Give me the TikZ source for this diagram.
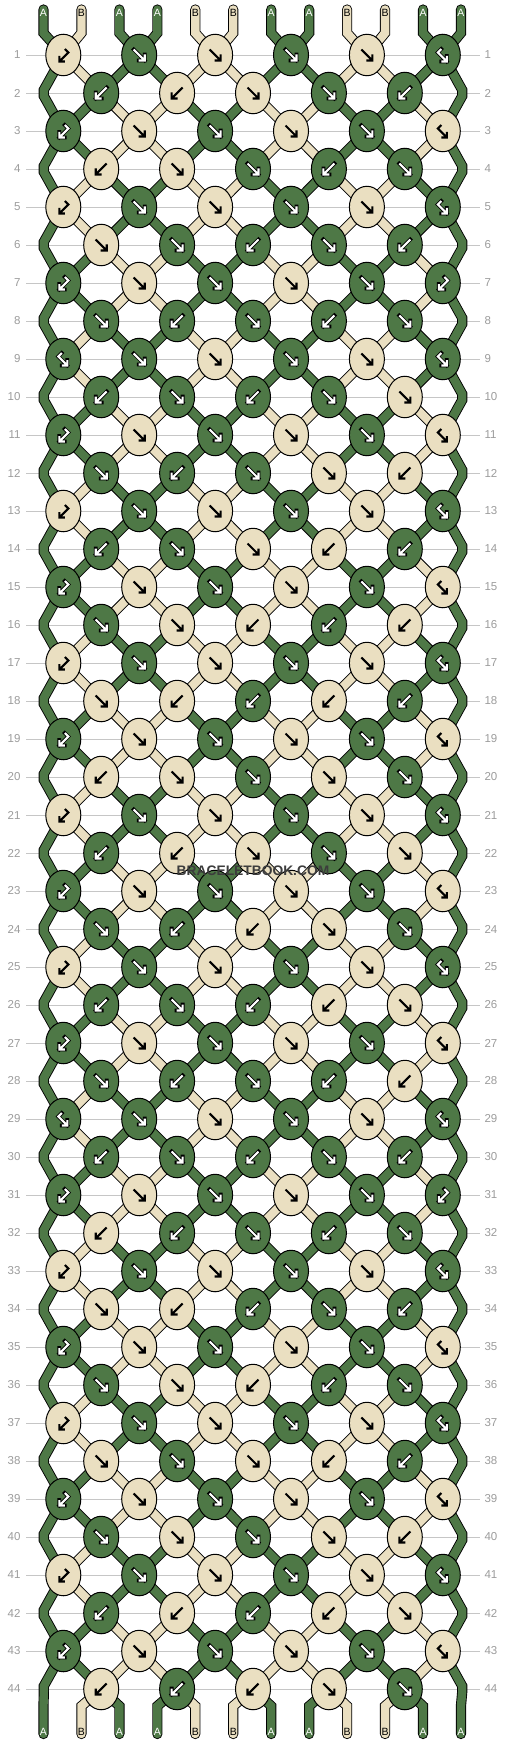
\documentclass[tikz,border=0pt]{standalone}
\usepackage{fontspec}
\setmainfont{Liberation Sans}
\usetikzlibrary{shapes.geometric}

\definecolor{strandA}{HTML}{4E7846}
\definecolor{strandB}{HTML}{EADFC1}
\definecolor{gridgray}{HTML}{C6C6C6}
\definecolor{numgray}{HTML}{9C9C9C}
\definecolor{markgray}{HTML}{3C3C3C}
\colorlet{labelA}{white}
\colorlet{labelB}{black}

\tikzset{
  strand/.style={line width=8.4pt, line cap=round, line join=miter},
  strandrim/.style={line width=10.2pt, line cap=round, line join=miter, draw=black},
  knot/.style={ellipse, draw=black, line width=1pt, minimum width=35pt, minimum height=41.5pt, inner sep=0pt},
  knotA/.style={fill=strandA},
  knotB/.style={fill=strandB},
  glyphA/.style={grim/.style={draw=black, line width=3.8pt, line cap=rect}, gcore/.style={draw=white, line width=2.1pt}},
  glyphB/.style={grim/.style={draw=strandB, line width=3.2pt, line cap=rect}, gcore/.style={draw=black, line width=2.1pt}},
  rowline/.style={gridgray, line width=0.9pt},
  rownum/.style={numgray, font=\fontsize{11.5}{13}\selectfont, inner sep=0pt},
  endlabel/.style={font=\fontsize{10.5}{12}\selectfont, inner sep=0pt},
  % knot symbols
  gF/.pic={\draw[grim] (-5.5,-5.5) -- (5.5,5.5) (5.5,-0.5) -- (5.5,5.5) -- (-0.5,5.5);
           \draw[gcore] (-5.5,-5.5) -- (5.5,5.5) (5.5,-0.5) -- (5.5,5.5) -- (-0.5,5.5);},
  gB/.pic={\draw[grim] (5.5,-5.5) -- (-5.5,5.5) (-5.5,-0.5) -- (-5.5,5.5) -- (0.5,5.5);
           \draw[gcore] (5.5,-5.5) -- (-5.5,5.5) (-5.5,-0.5) -- (-5.5,5.5) -- (0.5,5.5);},
  gf/.pic={\draw[grim] (-1.5,-6) -- (-5,-2.5) -- (4,6.5) (4,1) -- (4,6.5) -- (-1.5,6.5);
           \draw[gcore] (-1.5,-6) -- (-5,-2.5) -- (4,6.5) (4,1) -- (4,6.5) -- (-1.5,6.5);},
  gb/.pic={\draw[grim] (1.5,-6) -- (5,-2.5) -- (-4,6.5) (-4,1) -- (-4,6.5) -- (1.5,6.5);
           \draw[gcore] (1.5,-6) -- (5,-2.5) -- (-4,6.5) (-4,1) -- (-4,6.5) -- (1.5,6.5);},
}

% string bookkeeping
\newcommand\addpt[2]{\expandafter\xdef\csname spath#1\endcsname{\csname spath#1\endcsname -- #2}}
\newcommand\swapstr{%
  \expandafter\xdef\csname pos\lpos\endcsname{\rstr}%
  \expandafter\xdef\csname pos\rpos\endcsname{\lstr}}
\newcommand\drawknot[5]{%
  \node[knot, knot#4] (k#1) at (#2,#3) {};
  \pic[glyph#4] at (#2,#3) {g#5};}
\gdef\knotlist{}

\newcommand\dorow[2]{%
  \pgfmathsetmacro\ry{55+38*(#1-1)}%
  \pgfmathsetmacro\ya{\ry-3}\pgfmathsetmacro\yb{\ry+3}%
  \foreach \p in {1,...,12}{%
    \edef\sid{\csname pos\p\endcsname}%
    \ifodd#1
      \pgfmathsetmacro\px{63.3+75.9*(int((\p+1)/2)-1)}%
      \addpt{\sid}{(\px,\ry)}%
    \else
      \ifnum\p=1 \addpt{\sid}{(43.8,\ya) -- (43.8,\yb)}%
      \else\ifnum\p=12 \addpt{\sid}{(462.2,\ya) -- (462.2,\yb)}%
      \else
        \pgfmathsetmacro\px{101.2+75.9*(int(\p/2)-1)}%
        \addpt{\sid}{(\px,\ry)}%
      \fi\fi
    \fi
  }%
  \foreach \ktype [count=\kn] in {#2}{%
    \ifodd#1
      \pgfmathtruncatemacro\lpos{2*\kn-1}\pgfmathsetmacro\kx{63.3+75.9*(\kn-1)}%
    \else
      \pgfmathtruncatemacro\lpos{2*\kn}\pgfmathsetmacro\kx{101.2+75.9*(\kn-1)}%
    \fi
    \pgfmathtruncatemacro\rpos{\lpos+1}%
    \edef\lstr{\csname pos\lpos\endcsname}\edef\rstr{\csname pos\rpos\endcsname}%
    \edef\kc{\csname scol\rstr\endcsname}%
    \if F\ktype \edef\kc{\csname scol\lstr\endcsname}\fi
    \if f\ktype \edef\kc{\csname scol\lstr\endcsname}\fi
    \if F\ktype \swapstr\fi
    \if B\ktype \swapstr\fi
    \xdef\knotlist{\unexpanded\expandafter{\knotlist}\noexpand\drawknot{#1-\kn}{\kx}{\ry}{\kc}{\ktype}}%
  }%
}

\begin{document}
\begin{tikzpicture}[x=1pt, y=-1pt]
  \useasboundingbox (0,0) rectangle (506,1744);
  \fill[white] (0,0) rectangle (506,1744);

  % row lines and numbers
  \foreach \r in {1,...,44}{
    \pgfmathsetmacro\ry{55+38*(\r-1)}
    \draw[rowline] (26,\ry) -- (480,\ry);
    \node[rownum, anchor=east] (numl\r) at (20.7,\ry) {\r};
    \node[rownum, anchor=west] (numr\r) at (484.3,\ry) {\r};
  }

  % strings at the top
  \foreach \sc [count=\si] in {A,B,A,A,B,B,A,A,B,B,A,A}{
    \pgfmathsetmacro\sx{43.5+37.95*(\si-1)}
    \expandafter\xdef\csname scol\si\endcsname{\sc}
    \expandafter\xdef\csname pos\si\endcsname{\si}
    \expandafter\xdef\csname spath\si\endcsname{(\sx,9.5) -- (\sx,33)}
  }

  \dorow{1}{b,F,F,F,F,f}
  \dorow{2}{B,B,F,F,B}
  \dorow{3}{b,F,F,F,F,f}
  \dorow{4}{B,F,F,B,F}
  \dorow{5}{b,F,F,F,F,f}
  \dorow{6}{F,F,B,F,B}
  \dorow{7}{b,F,F,F,F,b}
  \dorow{8}{F,B,F,B,F}
  \dorow{9}{f,F,F,F,F,f}
  \dorow{10}{B,F,B,F,F}
  \dorow{11}{b,F,F,F,F,f}
  \dorow{12}{F,B,F,F,B}
  \dorow{13}{b,F,F,F,F,f}
  \dorow{14}{B,F,F,B,B}
  \dorow{15}{b,F,F,F,F,f}
  \dorow{16}{F,F,B,B,B}
  \dorow{17}{b,F,F,F,F,f}
  \dorow{18}{F,B,B,B,B}
  \dorow{19}{b,F,F,F,F,f}
  \dorow{20}{B,F,F,F,F}
  \dorow{21}{b,F,F,F,F,f}
  \dorow{22}{B,B,F,F,F}
  \dorow{23}{b,F,F,F,F,f}
  \dorow{24}{F,B,B,F,F}
  \dorow{25}{b,F,F,F,F,f}
  \dorow{26}{B,F,B,B,F}
  \dorow{27}{b,F,F,F,F,f}
  \dorow{28}{F,B,F,B,B}
  \dorow{29}{f,F,F,F,F,f}
  \dorow{30}{B,F,B,F,B}
  \dorow{31}{b,F,F,F,F,b}
  \dorow{32}{B,B,F,B,F}
  \dorow{33}{b,F,F,F,F,f}
  \dorow{34}{F,B,B,F,B}
  \dorow{35}{b,F,F,F,F,f}
  \dorow{36}{F,F,B,B,F}
  \dorow{37}{b,F,F,F,F,f}
  \dorow{38}{F,F,F,B,B}
  \dorow{39}{b,F,F,F,F,f}
  \dorow{40}{F,F,F,F,B}
  \dorow{41}{b,F,F,F,F,f}
  \dorow{42}{B,B,B,B,F}
  \dorow{43}{b,F,F,F,F,f}
  \dorow{44}{B,B,B,F,F}

  % strings at the bottom
  \foreach \p in {1,...,12}{
    \edef\sid{\csname pos\p\endcsname}
    \pgfmathsetmacro\sx{43.5+37.95*(\p-1)}
    \addpt{\sid}{(\sx,1706) -- (\sx,1734)}
  }

  % strings
  \foreach \si in {1,...,12}{
    \edef\cmd{\noexpand\draw[strandrim] \csname spath\si\endcsname;}\cmd
  }
  \foreach \si in {1,...,12}{
    \edef\sc{\csname scol\si\endcsname}
    \edef\cmd{\noexpand\draw[strand, draw=strand\sc] \csname spath\si\endcsname;}\cmd
  }

  % knots
  \knotlist

  % string letters
  \foreach \sc [count=\si] in {A,B,A,A,B,B,A,A,B,B,A,A}{
    \pgfmathsetmacro\sx{43.5+37.95*(\si-1)}
    \node[endlabel, text=label\sc] (top\si) at (\sx,12.8) {\sc};
  }
  \foreach \p in {1,...,12}{
    \edef\sc{\csname scol\csname pos\p\endcsname\endcsname}
    \pgfmathsetmacro\sx{43.5+37.95*(\p-1)}
    \node[endlabel, text=label\sc] (bot\p) at (\sx,1731.5) {\sc};
  }

  \node[font=\bfseries\fontsize{13.8}{15}\selectfont, text=markgray, inner sep=0pt] (mark) at (253,871) {BRACELETBOOK.COM};
\end{tikzpicture}
\end{document}
